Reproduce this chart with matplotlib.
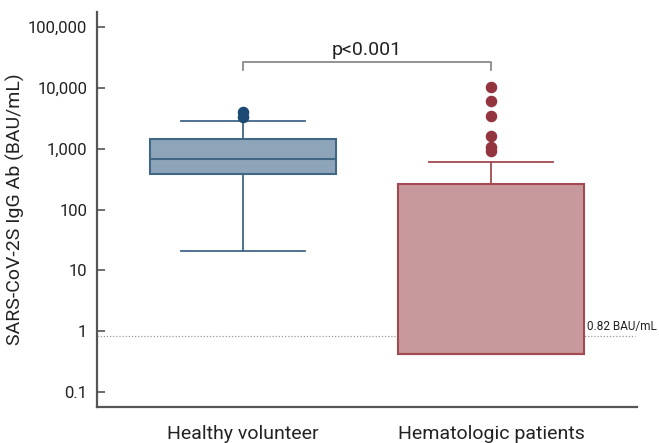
#!/usr/bin/env python3
"""Box plot of SARS-CoV-2S IgG antibody titres, volunteers vs patients."""

import matplotlib

matplotlib.use("Agg")
import matplotlib.pyplot as plt

groups = ["Healthy volunteer", "Hematologic patients"]
q1 = [382, 0.42]
median = [675, 0.42]
q3 = [1440, 262]
whisker_low = [20.7, 0.42]
whisker_high = [2850, 603]
outliers = [
    [4000, 3350],
    [10300, 6070, 3440, 1610, 1060, 915],
]
cutoff = 0.82

y_ticks = [0.1, 1, 10, 100, 1000, 10000, 100000]
y_tick_labels = ["0.1", "1", "10", "100", "1,000", "10,000", "100,000"]

face_colors = ["#8ea5b9", "#c8999c"]
edge_colors = ["#416787", "#a44952"]
flier_colors = ["#1d4a73", "#94343f"]


def main() -> None:
    plt.rcParams["font.family"] = ["Roboto", "DejaVu Sans"]

    fig = plt.figure(figsize=(6.59, 4.43), dpi=100)
    ax = fig.add_axes([0.147, 0.081, 0.820, 0.892])

    ax.axhline(cutoff, xmin=0.0, xmax=0.996, color="#9a9a9a",
               linestyle=(0, (1, 1.5)), linewidth=0.9, zorder=1)

    for i in range(len(groups)):
        stats = [{
            "med": median[i], "q1": q1[i], "q3": q3[i],
            "whislo": whisker_low[i], "whishi": whisker_high[i],
            "fliers": outliers[i], "label": groups[i],
        }]
        ec = edge_colors[i]
        ax.bxp(
            stats, positions=[i], widths=0.75, capwidths=0.5,
            patch_artist=True, manage_ticks=False,
            boxprops=dict(facecolor=face_colors[i], edgecolor=ec, linewidth=1.5),
            medianprops=dict(color=ec, linewidth=1.5),
            whiskerprops=dict(color=ec, linewidth=1.3),
            capprops=dict(color=ec, linewidth=1.3),
            flierprops=dict(marker="o", markersize=7.3, markerfacecolor=flier_colors[i],
                            markeredgecolor=flier_colors[i]),
            zorder=3,
        )

    ax.set_yscale("log")
    ax.set_ylim(0.0567, 176000)
    ax.set_xlim(-0.589, 1.589)
    ax.set_yticks(y_ticks)
    ax.set_yticklabels(y_tick_labels)
    ax.minorticks_off()
    ax.set_xticks(range(len(groups)))
    ax.set_xticklabels(groups, fontsize=14, color="#222222")

    ax.tick_params(axis="y", direction="in", length=6, width=1.2,
                   color="#555555", labelsize=12, labelcolor="#222222", pad=7)
    ax.tick_params(axis="x", length=0, pad=13)

    for side in ["top", "right"]:
        ax.spines[side].set_visible(False)
    for side in ["left", "bottom"]:
        ax.spines[side].set_color("#555555")
        ax.spines[side].set_linewidth(1.6)

    ax.set_ylabel("SARS-CoV-2S IgG Ab (BAU/mL)", fontsize=14, color="#222222", labelpad=2)

    # significance bracket
    y_br, y_end = 26500, 19600
    ax.plot([0, 0, 1, 1], [y_end, y_br, y_br, y_end], color="#8a8a8a",
            linewidth=1.3, zorder=4)
    ax.text(0.5, y_br * 1.12, "p<0.001", ha="center", va="bottom",
            fontsize=14, color="#222222")

    ax.text(1.387, cutoff * 1.12, "0.82 BAU/mL", ha="left", va="bottom",
            fontsize=8.5, color="#222222")

    fig.savefig("out.png", dpi=100)
    plt.close(fig)


if __name__ == "__main__":
    main()
